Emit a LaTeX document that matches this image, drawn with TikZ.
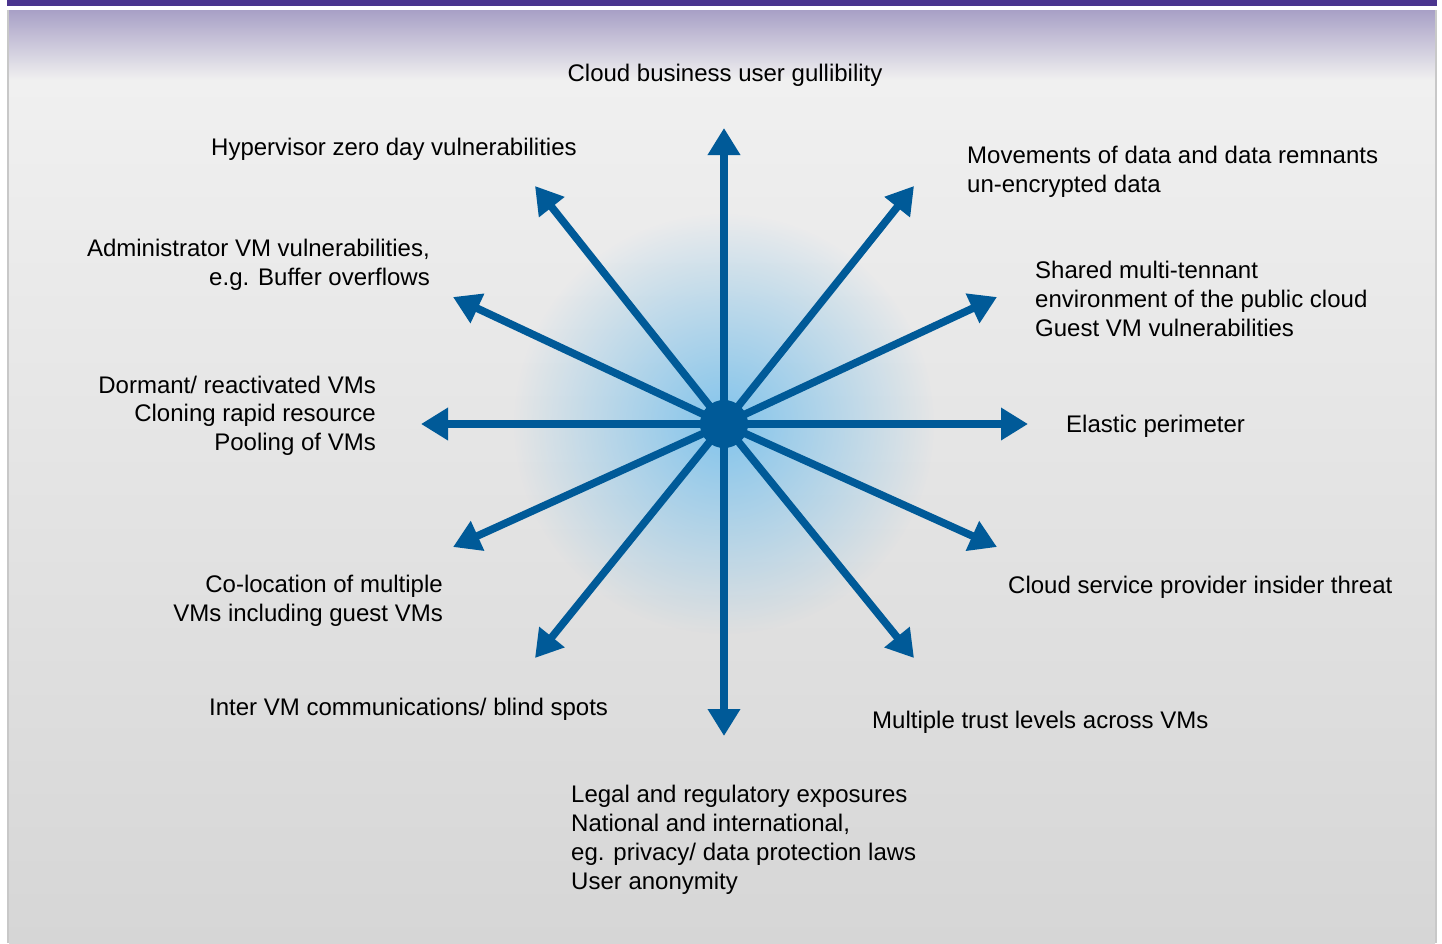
\documentclass[tikz,border=0pt]{standalone}
\usepackage{fontspec}
\setmainfont{Liberation Sans}
\usetikzlibrary{arrows.meta,fadings}
\definecolor{arrowblue}{RGB}{0,90,152}
\definecolor{glowblue}{RGB}{130,196,236}
\definecolor{barpurple}{RGB}{74,52,142}
\definecolor{toppurple}{RGB}{168,160,198}
\definecolor{bglight}{RGB}{240,240,240}
\definecolor{bgdark}{RGB}{214,214,214}
\definecolor{edgegray}{RGB}{200,200,200}
\tikzfading[name=glowfade, inner color=transparent!0, outer color=transparent!100]
\begin{document}
\begin{tikzpicture}[x=1pt,y=-1pt,
  font=\fontsize{24}{28.7}\selectfont,
  ray/.style={draw=arrowblue, line width=7.6pt, -{Triangle[length=27pt,width=31pt]}},
  lbl/.style={inner sep=0pt, text=black},
  hub/.style={circle, fill=arrowblue, minimum size=48pt, inner sep=0pt}]
\useasboundingbox (0,0) rectangle (1442,943);
% background panel
\fill[white] (0,0) rectangle (1442,943);
\fill[barpurple] (7,0) rectangle (1437,6);
\shade[top color=toppurple, bottom color=bglight] (9,10) rectangle (1435,80);
\shade[top color=bglight, bottom color=bgdark] (9,80) rectangle (1435,943);
\fill[edgegray] (7,10) rectangle (9,943);
\fill[edgegray] (1435,10) rectangle (1437,943);
% glow
\fill[glowblue, path fading=glowfade] (724,424) circle (210);
% hub and ray ends
\node[hub] (c) at (724,424) {};
\coordinate (n) at (724,128);
\coordinate (s) at (724,736);
\coordinate (w) at (421,424);
\coordinate (e) at (1028,424);
\coordinate (nw1) at (535,186);
\coordinate (ne1) at (914,186);
\coordinate (sw1) at (535,658);
\coordinate (se1) at (914,658);
\coordinate (nw2) at (453,297);
\coordinate (ne2) at (997,297);
\coordinate (sw2) at (453,547);
\coordinate (se2) at (997,547);
\foreach \t in {n,s,w,e,nw1,ne1,sw1,se1,nw2,ne2,sw2,se2}
  \draw[ray] (c.center) -- (\t);
% labels (base anchor = baseline of the last line)
\node[lbl, anchor=base] (l1) at (725,81) {Cloud business user gullibility};
\node[lbl, anchor=base west] (l2) at (211,155) {Hypervisor zero day vulnerabilities};
\node[lbl, anchor=base west, align=left] (l3) at (967,192) {Movements of data and data remnants\\un-encrypted data};
\node[lbl, anchor=base east, align=right] (l4) at (430,285) {Administrator VM vulnerabilities,\\e.g. Buffer overflows};
\node[lbl, anchor=base west, align=left] (l5) at (1035,336) {Shared multi-tennant\\environment of the public cloud\\Guest VM vulnerabilities};
\node[lbl, anchor=base east, align=right] (l6) at (376,450.5) {Dormant/ reactivated VMs\\Cloning rapid resource\\Pooling of VMs};
\node[lbl, anchor=base west] (l7) at (1066,432) {Elastic perimeter};
\node[lbl, anchor=base east, align=right] (l8) at (443,621) {Co-location of multiple\\VMs including guest VMs};
\node[lbl, anchor=base west] (l9) at (1008,593) {Cloud service provider insider threat};
\node[lbl, anchor=base west] (l10) at (209,715) {Inter VM communications/ blind spots};
\node[lbl, anchor=base west] (l11) at (872,728) {Multiple trust levels across VMs};
\node[lbl, anchor=base west, align=left] (l12) at (571,889) {Legal and regulatory exposures\\National and international,\\eg. privacy/ data protection laws\\User anonymity};
\end{tikzpicture}
\end{document}
